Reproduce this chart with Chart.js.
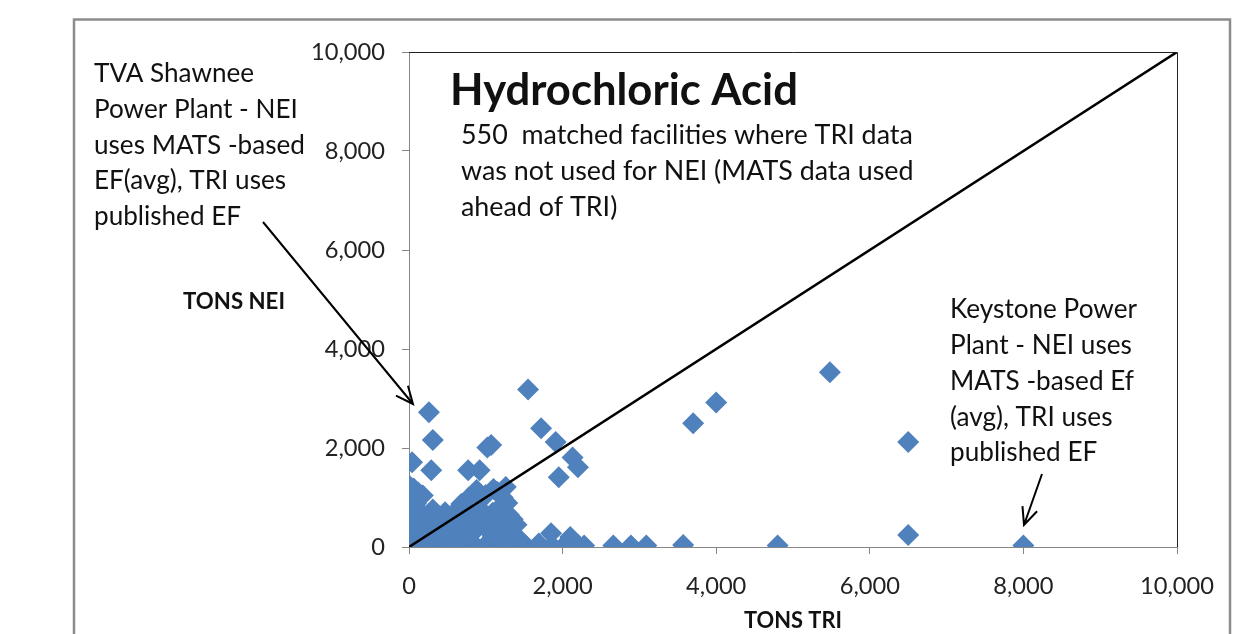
<!DOCTYPE html>
<html>
<head>
<meta charset="utf-8">
<script src="https://cdn.jsdelivr.net/npm/chart.js@4.4.1/dist/chart.umd.min.js"></script>
<style>
  html, body { margin: 0; padding: 0; background: #fff; }
  #wrap { width: 1238px; height: 634px; }
</style>
</head>
<body>
<div id="wrap"><canvas id="chart" width="1238" height="634"></canvas></div>
<script>
// facilities spread out from the main cluster
const spreadTri = [1550, 5480, 4000, 3700, 6500, 6500, 8000, 4800, 3570, 3090, 2890, 2660, 2280,
  260, 310, 40, 290, 770, 920, 1020, 1070, 1720, 1910, 2130, 2200, 1950, 1850, 2100, 1350];
const spreadNei = [3180, 3530, 2920, 2500, 2120, 240, 30, 30, 40, 30, 30, 30, 30,
  2720, 2160, 1710, 1550, 1550, 1550, 2010, 2060, 2400, 2120, 1810, 1610, 1410, 280, 200, 560];

// dense cluster near the origin (estimated)
const clusterTri = [
  0, 170, 340, 510, 680, 850, 1020, 1190, 1350, 1520, 1690, 1860, 2030, 2200,
  0, 160, 310, 470, 620, 780, 1090, 1250, 1400, 90, 240, 400, 550, 700,
  0, 160, 310, 470, 620, 780, 940, 1090, 1250, 80, 240, 390, 550, 700, 860, 1010, 1170,
  0, 160, 310, 470, 620, 780, 940, 1090, 80, 240, 390, 550, 700, 860,
  0, 110, 780, 940, 680,
  20, 120, 60, 180, 0, 90,
  880, 1000, 1100, 1150, 1260, 1220,
  1280, 1300, 1400, 1250, 1350, 1450, 1180
];
const clusterNei = [
  20, 60, 30, 70, 20, 50, 80, 30, 60, 20, 70, 30, 50, 40,
  230, 260, 200, 280, 240, 210, 220, 250, 200, 120, 140, 110, 150, 130,
  480, 450, 510, 470, 500, 440, 490, 460, 520, 350, 370, 340, 380, 360, 330, 370, 350,
  720, 690, 760, 700, 740, 710, 750, 690, 600, 590, 620, 600, 610, 580,
  980, 950, 1000, 960, 870,
  1000, 1100, 1180, 1040, 1240, 880,
  1150, 1050, 1170, 1110, 1210, 1000,
  890, 650, 450, 400, 250, 140, 800
];

const diagonal = [0, 10000];
const xTicks = [0, 2000, 4000, 6000, 8000, 10000];
const yTicks = [0, 2000, 4000, 6000, 8000, 10000];

const FONT = 'Lato';
const BLUE = '#4F81BD';

const measure = document.createElement('canvas').getContext('2d');
function fitSize(text, weight, target) {
  measure.font = `${weight} 100px ${FONT}`;
  return 100 * target / measure.measureText(text).width;
}

const tickSize = fitSize('10,000', 'normal', 74);

const points = spreadTri.map((x, i) => ({ x, y: spreadNei[i] }))
  .concat(clusterTri.map((x, i) => ({ x, y: clusterNei[i] })));

function arrow(ctx, x1, y1, x2, y2) {
  const a = Math.atan2(y2 - y1, x2 - x1), h = 19, w = 0.42;
  ctx.beginPath();
  ctx.moveTo(x1, y1);
  ctx.lineTo(x2, y2);
  ctx.moveTo(x2 - h * Math.cos(a - w), y2 - h * Math.sin(a - w));
  ctx.lineTo(x2, y2);
  ctx.lineTo(x2 - h * Math.cos(a + w), y2 - h * Math.sin(a + w));
  ctx.stroke();
}

function lines(ctx, arr, x, y0, step) {
  arr.forEach((t, i) => ctx.fillText(t, x, y0 + i * step));
}

const decor = {
  id: 'decor',
  afterDraw(chart) {
    const ctx = chart.ctx;
    const a = chart.chartArea;
    ctx.save();
    // outer frame
    ctx.strokeStyle = '#8c8c8c';
    ctx.lineWidth = 2.5;
    ctx.strokeRect(74, 19.5, 1156, 700);
    // plot box top / right
    ctx.strokeStyle = '#222';
    ctx.lineWidth = 1;
    ctx.beginPath();
    ctx.moveTo(a.left, a.top + 0.5);
    ctx.lineTo(a.right + 0.5, a.top + 0.5);
    ctx.lineTo(a.right + 0.5, a.bottom);
    ctx.stroke();

    ctx.fillStyle = '#111';
    ctx.textBaseline = 'middle';
    ctx.textAlign = 'left';

    const tSize = fitSize('Hydrochloric Acid', 'bold', 348);
    ctx.font = `bold ${tSize}px ${FONT}`;
    ctx.fillText('Hydrochloric Acid', 450, 91);

    const mSize = fitSize('550  matched facilities where TRI data', 'normal', 452);
    ctx.font = `${mSize}px ${FONT}`;
    lines(ctx, ['550  matched facilities where TRI data', 'was not used for NEI (MATS data used', 'ahead of TRI)'], 461, 135, 36);

    const lSize = fitSize('uses MATS -based', 'normal', 211);
    ctx.font = `${lSize}px ${FONT}`;
    lines(ctx, ['TVA Shawnee', 'Power Plant - NEI', 'uses MATS -based', 'EF(avg), TRI uses', 'published EF'], 94, 74, 35.6);

    const kSize = fitSize('MATS -based Ef', 'normal', 184);
    ctx.font = `${kSize}px ${FONT}`;
    lines(ctx, ['Keystone Power', 'Plant - NEI uses', 'MATS -based Ef', '(avg), TRI uses', 'published EF'], 950, 310, 35.7);

    ctx.textAlign = 'center';
    ctx.font = `bold ${fitSize('TONS NEI', 'bold', 102)}px ${FONT}`;
    ctx.fillText('TONS NEI', 234, 302);
    ctx.font = `bold ${fitSize('TONS TRI', 'bold', 98)}px ${FONT}`;
    ctx.fillText('TONS TRI', 793, 621);

    ctx.strokeStyle = '#000';
    ctx.lineWidth = 2;
    arrow(ctx, 263, 222, 413, 404);
    arrow(ctx, 1042, 474, 1024, 525);
    ctx.restore();
  }
};

new Chart(document.getElementById('chart'), {
  type: 'scatter',
  data: {
    datasets: [
      {
        type: 'line',
        data: diagonal.map(v => ({ x: v, y: v })),
        borderColor: '#000',
        borderWidth: 2.5,
        pointRadius: 0,
        fill: false
      },
      {
        data: points,
        pointStyle: 'rectRot',
        pointRadius: 11,
        pointBackgroundColor: BLUE,
        pointBorderColor: BLUE,
        pointBorderWidth: 0
      }
    ]
  },
  options: {
    responsive: false,
    animation: false,
    layout: { padding: { top: 52, right: 61, left: 0, bottom: 0 } },
    plugins: { legend: { display: false }, tooltip: { enabled: false } },
    scales: {
      x: {
        type: 'linear', min: 0, max: 10000,
        afterBuildTicks: s => { s.ticks = xTicks.map(v => ({ value: v })); },
        afterFit: s => { s.height = 87; },
        grid: { drawOnChartArea: false, tickLength: 7, color: '#868686' },
        border: { color: '#868686' },
        ticks: {
          padding: 18, color: '#222',
          font: { family: FONT, size: tickSize },
          callback: v => v.toLocaleString('en-US')
        }
      },
      y: {
        type: 'linear', min: 0, max: 10000,
        afterBuildTicks: s => { s.ticks = yTicks.map(v => ({ value: v })); },
        afterFit: s => { s.width = 409; },
        grid: { drawOnChartArea: false, tickLength: 7, color: '#868686' },
        border: { color: '#868686' },
        ticks: {
          padding: 17, color: '#222',
          font: { family: FONT, size: tickSize },
          callback: v => v.toLocaleString('en-US')
        }
      }
    }
  },
  plugins: [decor]
});
</script>
</body>
</html>
